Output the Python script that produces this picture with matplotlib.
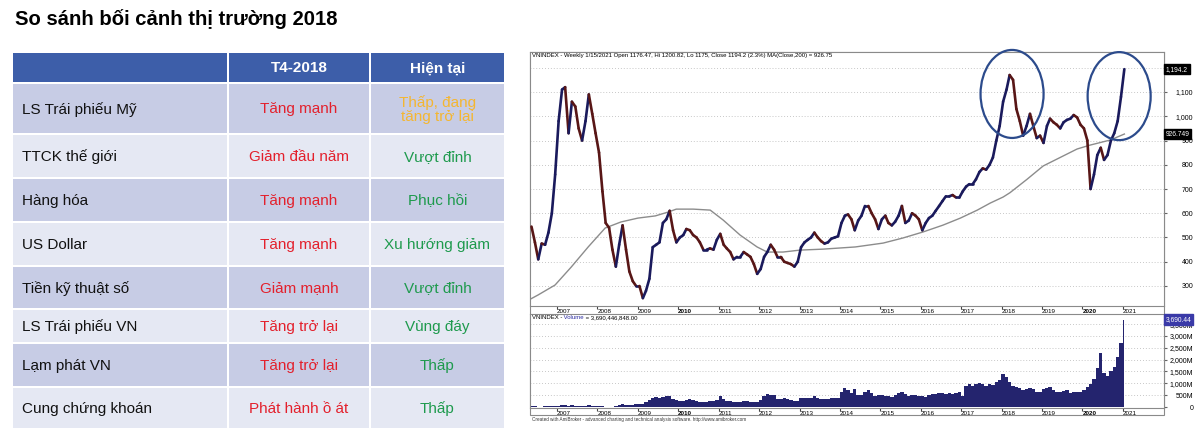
import matplotlib.pyplot as plt
import numpy as np
import pandas as pd
from matplotlib.patches import Rectangle, Ellipse
from matplotlib.collections import LineCollection

plt.rcParams['font.family'] = ['Liberation Sans', 'DejaVu Sans']

# ---- table data ----
title = 'So sánh bối cảnh thị trường 2018'
col_headers = ['', 'T4-2018', 'Hiện tại']
row_labels = ['LS Trái phiếu Mỹ', 'TTCK thế giới', 'Hàng hóa', 'US Dollar',
              'Tiền kỹ thuật số', 'LS Trái phiếu VN', 'Lạm phát VN', 'Cung chứng khoán']
t4_2018 = ['Tăng mạnh', 'Giảm đầu năm', 'Tăng mạnh', 'Tăng mạnh',
           'Giảm mạnh', 'Tăng trở lại', 'Tăng trở lại', 'Phát hành ồ át']
hien_tai = ['Thấp, đang\ntăng trở lại', 'Vượt đỉnh', 'Phục hồi', 'Xu hướng giảm',
            'Vượt đỉnh', 'Vùng đáy', 'Thấp', 'Thấp']

# ---- VNINDEX weekly chart, read monthly (mid-month) ----
close_2006 = [545, 480, 410, 475, 470, 520, 600, 760]
close_2007 = [980, 1110, 1120, 930, 1060, 1040, 950, 900, 980, 1090, 1010, 930]
close_2008 = [850, 690, 560, 540, 450, 380, 470, 550, 450, 360, 320, 300]
close_2009 = [300, 250, 280, 330, 460, 470, 480, 560, 575, 610, 530, 480]
close_2010 = [500, 510, 535, 530, 510, 500, 480, 450, 450, 455, 450, 490]
close_2011 = [515, 470, 455, 440, 410, 420, 420, 440, 430, 420, 390, 350]
close_2012 = [370, 420, 440, 470, 450, 420, 420, 400, 395, 390, 380, 400]
close_2013 = [460, 480, 490, 500, 520, 500, 485, 475, 480, 495, 500, 505]
close_2014 = [560, 590, 595, 575, 530, 570, 590, 630, 630, 600, 575, 535]
close_2015 = [575, 590, 560, 550, 565, 590, 630, 560, 570, 600, 590, 575]
close_2016 = [530, 560, 580, 590, 610, 630, 650, 670, 670, 675, 665, 665]
close_2017 = [690, 710, 720, 720, 740, 770, 785, 780, 800, 830, 900, 960]
close_2018 = [1060, 1110, 1170, 1150, 1030, 980, 920, 960, 1010, 960, 910, 920]
close_2019 = [890, 960, 990, 975, 965, 950, 975, 985, 990, 1005, 995, 965]
close_2020 = [950, 900, 700, 760, 840, 870, 820, 840, 900, 930, 980, 1080]
close_2021 = [1194.2]

# volume, million shares
vol_2006 = [30, 25, 20, 20, 25, 35, 45, 55]
vol_2007 = [60, 70, 80, 60, 70, 60, 50, 50, 60, 70, 60, 50]
vol_2008 = [40, 30, 20, 15, 20, 40, 70, 110, 100, 90, 100, 110]
vol_2009 = [120, 110, 200, 300, 380, 420, 400, 430, 480, 450, 330, 300]
vol_2010 = [260, 240, 300, 330, 280, 240, 230, 220, 230, 250, 260, 280]
vol_2011 = [450, 330, 250, 260, 200, 210, 200, 250, 260, 220, 200, 210]
vol_2012 = [280, 480, 550, 520, 500, 350, 320, 380, 330, 300, 250, 260]
vol_2013 = [380, 390, 400, 380, 450, 380, 350, 330, 350, 380, 360, 380]
vol_2014 = [650, 800, 700, 600, 750, 520, 500, 650, 700, 600, 480, 520]
vol_2015 = [520, 450, 450, 420, 500, 580, 650, 560, 470, 500, 520, 470]
vol_2016 = [480, 420, 500, 560, 540, 600, 580, 560, 600, 560, 600, 620]
vol_2017 = [480, 900, 950, 900, 950, 1000, 950, 900, 950, 920, 1050, 1150]
vol_2018 = [1400, 1250, 1050, 900, 850, 800, 700, 750, 800, 780, 650, 650]
vol_2019 = [750, 800, 850, 700, 620, 650, 680, 720, 600, 650, 650, 620]
vol_2020 = [700, 850, 950, 1200, 1650, 2300, 1450, 1300, 1500, 1700, 2100, 2700]
vol_2021 = [3690]

# MA(Close,200)
ma_year = [2006.33, 2006.53, 2006.95, 2007.35, 2007.77, 2008.19, 2008.58, 2009.0,
           2009.43, 2009.75, 2009.95, 2010.37, 2010.79, 2011.11, 2011.53, 2011.95,
           2012.2, 2012.59, 2013.01, 2013.58, 2014.38, 2015.07, 2015.56, 2016.06,
           2016.55, 2016.98, 2017.4, 2017.72, 2018.04, 2018.21, 2018.63, 2019.03,
           2019.45, 2019.87, 2020.19, 2020.69, 2021.04]
ma_val = [245, 263, 304, 378, 461, 539, 564, 580, 589, 605, 617, 617, 613, 572,
          510, 461, 440, 440, 448, 452, 461, 477, 498, 523, 551, 580, 613, 642,
          667, 685, 740, 795, 830, 865, 881, 902, 926.75]

years = list(range(2007, 2022))
price_ticks = [300, 400, 500, 600, 700, 800, 900, 1000, 1100, 1200]
vol_ticks = [0, 500, 1000, 1500, 2000, 2500, 3000, 3500]

close = np.array(close_2006 + close_2007 + close_2008 + close_2009 + close_2010 +
                 close_2011 + close_2012 + close_2013 + close_2014 + close_2015 +
                 close_2016 + close_2017 + close_2018 + close_2019 + close_2020 +
                 close_2021, dtype=float)
vol = np.array(vol_2006 + vol_2007 + vol_2008 + vol_2009 + vol_2010 + vol_2011 +
               vol_2012 + vol_2013 + vol_2014 + vol_2015 + vol_2016 + vol_2017 +
               vol_2018 + vol_2019 + vol_2020 + vol_2021, dtype=float)
dates = pd.date_range('2006-05-15', periods=len(close), freq=pd.DateOffset(months=1))
x = np.array(dates.year + (dates.dayofyear - 1) / 365.25)

W, H = 1200, 445
fig = plt.figure(figsize=(12, 4.45), dpi=100)
fig.patch.set_facecolor('white')

# ---- left: title + table ----
tab = fig.add_axes([0, 0, 1, 1])
tab.set_xlim(0, W)
tab.set_ylim(H, 0)
tab.axis('off')

fig.text(15 / W, 1 - 19 / H, title, fontsize=14.6, fontweight='bold', va='center')

col_edges = [12, 228, 370, 505]
row_edges = [52, 83, 134, 178, 222, 266, 309, 343, 387, 429]
header_col = '#3d5ea9'
dark_row = '#c7cce5'
light_row = '#e5e8f3'
red = '#e3202c'
green = '#1e9a4d'
orange = '#f4b631'

for j in range(3):
    x0, x1 = col_edges[j], col_edges[j + 1]
    tab.add_patch(Rectangle((x0 + 1, row_edges[0] + 1), x1 - x0 - 2,
                            row_edges[1] - row_edges[0] - 2, color=header_col, lw=0))
    tab.text((x0 + x1) / 2, (row_edges[0] + row_edges[1]) / 2 + 1, col_headers[j],
             color='white', fontsize=11, fontweight='bold', ha='center', va='center')

for i in range(len(row_labels)):
    y0, y1 = row_edges[i + 1], row_edges[i + 2]
    fc = dark_row if i % 2 == 0 else light_row
    for j in range(3):
        x0, x1 = col_edges[j], col_edges[j + 1]
        tab.add_patch(Rectangle((x0 + 1, y0 + 1), x1 - x0 - 2, y1 - y0 - 2, color=fc, lw=0))
    yc = (y0 + y1) / 2 + 1
    tab.text(22, yc, row_labels[i], fontsize=11, ha='left', va='center', color='#111111')
    tab.text((col_edges[1] + col_edges[2]) / 2, yc, t4_2018[i], fontsize=11,
             ha='center', va='center', color=red)
    tab.text((col_edges[2] + col_edges[3]) / 2, yc, hien_tai[i], fontsize=11,
             ha='center', va='center', color=orange if i == 0 else green,
             linespacing=1.05)

# chart outer frame
tab.add_patch(Rectangle((530, 52), 634, 363, fill=False, ec='#8a8a8a', lw=0.8))
tab.text(532, 419, 'Created with AmiBroker - advanced charting and technical analysis '
         'software. http://www.amibroker.com', fontsize=3.3, va='center', color='#333333')

# ---- right: price pane ----
xlim = (2006.33, 2022.02)
ax = fig.add_axes([530 / W, 1 - 306 / H, 634 / W, 254 / H])
ax.set_xlim(*xlim)
ax.set_ylim(217.5, 1265)
ax.set_facecolor('white')

for v in price_ticks:
    ax.axhline(v, color='#b5b5b5', lw=0.6, ls=(0, (1, 2.5)), zorder=0)

ax.plot(ma_year, ma_val, color='#8c8c8c', lw=1.0, zorder=2)

pts = np.column_stack([x, close])
segs = np.stack([pts[:-1], pts[1:]], axis=1)
seg_cols = np.where(np.diff(close) >= 0, '#1a1a5c', '#581616')
ax.add_collection(LineCollection(segs, colors=seg_cols, linewidths=1.9, zorder=3,
                                 capstyle='round', joinstyle='round'))

ax.add_patch(Ellipse((2018.26, 1092), 1.56, 363, fill=False, ec='#2c4b8c', lw=1.6,
                     clip_on=False, zorder=5))
ax.add_patch(Ellipse((2020.91, 1083), 1.56, 363, fill=False, ec='#2c4b8c', lw=1.6,
                     clip_on=False, zorder=5))

ax.text(0.003, 0.995, 'VNINDEX - Weekly 1/15/2021 Open 1176.47, Hi 1200.82, Lo 1175, '
        'Close 1194.2 (2.3%) MA(Close,200) = 926.75', transform=ax.transAxes,
        fontsize=4.3, va='top', ha='left')

ax.yaxis.tick_right()
ax.set_yticks(price_ticks)
ax.set_yticklabels(['{:,}'.format(v) if v < 1200 else '' for v in price_ticks])
ax.tick_params(axis='y', length=2, pad=19, labelsize=5, color='#666666')
for lab in ax.get_yticklabels():
    lab.set_horizontalalignment('right')

ax.set_xticks(years)
ax.set_xticklabels([str(y) for y in years])
ax.tick_params(axis='x', length=2, pad=0.5, labelsize=4.5, color='#444444')
for lab in ax.get_xticklabels():
    lab.set_horizontalalignment('left')
    if lab.get_text() in ('2010', '2020'):
        lab.set_fontweight('bold')

for s in ax.spines.values():
    s.set_color('#8a8a8a')
    s.set_linewidth(0.8)

ax.text(1.003, 1194.2, '1,194.2', transform=ax.get_yaxis_transform(), fontsize=4.8,
        color='white', va='center', ha='left', clip_on=False,
        bbox=dict(boxstyle='square,pad=0.25', fc='black', ec='black'))
ax.text(1.003, 926.75, '926.749', transform=ax.get_yaxis_transform(), fontsize=4.8,
        color='white', va='center', ha='left', clip_on=False,
        bbox=dict(boxstyle='square,pad=0.25', fc='black', ec='black'))

# ---- volume pane ----
av = fig.add_axes([530 / W, 1 - 408 / H, 634 / W, 94 / H])
av.set_xlim(*xlim)
av.set_ylim(-42, 3925)
for v in vol_ticks[1:]:
    av.axhline(v, color='#b5b5b5', lw=0.6, ls=(0, (1, 2.5)), zorder=0)
av.fill_between(x, 0, vol, step='mid', color='#24246e', lw=0, zorder=2)

t1 = av.text(0.003, 0.985, 'VNINDEX -', transform=av.transAxes, fontsize=4.3, va='top')
t2 = av.annotate(' Volume', xy=(1, 0), xycoords=t1, fontsize=4.3, va='bottom',
                 color='#2a2aa0')
av.annotate(' = 3,690,446,848.00', xy=(1, 0), xycoords=t2, fontsize=4.3, va='bottom')

av.yaxis.tick_right()
av.set_yticks(vol_ticks)
av.set_yticklabels(['0' if v == 0 else '{:,}M'.format(v) for v in vol_ticks])
av.tick_params(axis='y', length=2, pad=19, labelsize=5, color='#666666')
for lab in av.get_yticklabels():
    lab.set_horizontalalignment('right')

av.set_xticks(years)
av.set_xticklabels([str(y) for y in years])
av.tick_params(axis='x', length=2, pad=0.5, labelsize=4.5, color='#444444')
for lab in av.get_xticklabels():
    lab.set_horizontalalignment('left')
    if lab.get_text() in ('2010', '2020'):
        lab.set_fontweight('bold')

for s in av.spines.values():
    s.set_color('#8a8a8a')
    s.set_linewidth(0.8)

av.text(1.003, 3690, '3,690.44', transform=av.get_yaxis_transform(), fontsize=4.8,
        color='white', va='center', ha='left', clip_on=False,
        bbox=dict(boxstyle='square,pad=0.25', fc='#3a3aa8', ec='#3a3aa8'))

fig.savefig('out.png', dpi=100, facecolor='white')
